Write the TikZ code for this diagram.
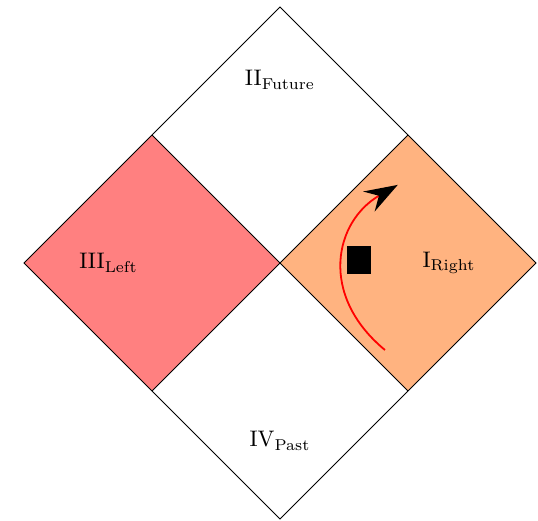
\documentclass[tikz,border=0pt]{standalone}
\usepackage{amsmath}
\usetikzlibrary{arrows.meta,positioning}
\definecolor{rightfill}{HTML}{FFB380}

\begin{document}
\begin{tikzpicture}[
    edge/.style={draw=black, thin},
    label/.style={font=\normalsize},
    observer/.style={fill=black, minimum width=0.375cm, minimum height=0.44cm, inner sep=0pt},
    worldline/.style={red, thick, -{Stealth[black, length=5.2mm, width=3.6mm, inset=1.8mm]}},
]
\useasboundingbox (-4.375,-4.016) rectangle (4.031,4.109);

% Corners of the diagram
\coordinate (top) at (0,4);
\coordinate (right) at (4,0);
\coordinate (bottom) at (0,-4);
\coordinate (left) at (-4,0);
\coordinate (centre) at (0,0);
\coordinate (ul) at (-2,2);
\coordinate (ur) at (2,2);
\coordinate (ll) at (-2,-2);
\coordinate (lr) at (2,-2);

% Left and right wedges
\fill[red!50] (left) -- (ul) -- (centre) -- (ll) -- cycle;
\fill[rightfill] (centre) -- (ur) -- (right) -- (lr) -- cycle;

% Outline and horizons
\draw[edge] (top) -- (right) -- (bottom) -- (left) -- cycle;
\draw[edge] (ul) -- (lr);
\draw[edge] (ur) -- (ll);

% Region labels
\node[label] (future) at (0,2.86) {II$_{\text{Future}}$};
\node[label] (leftlbl) at (-2.68,0) {III$_{\text{Left}}$};
\node[label] (rightlbl) at (2.64,0) {I$_{\text{Right}}$};
\node[label] (past) at (0,-2.78) {IV$_{\text{Past}}$};

% Observer and its worldline
\node[observer] (obs) at (1.23,0.05) {};
\coordinate (start) at (1.64,-1.36);
\coordinate (tip) at (1.84,1.22);
\draw[worldline] (start) .. controls (0.6,-0.5) and (0.85,0.65) .. (tip);

\end{tikzpicture}
\end{document}
